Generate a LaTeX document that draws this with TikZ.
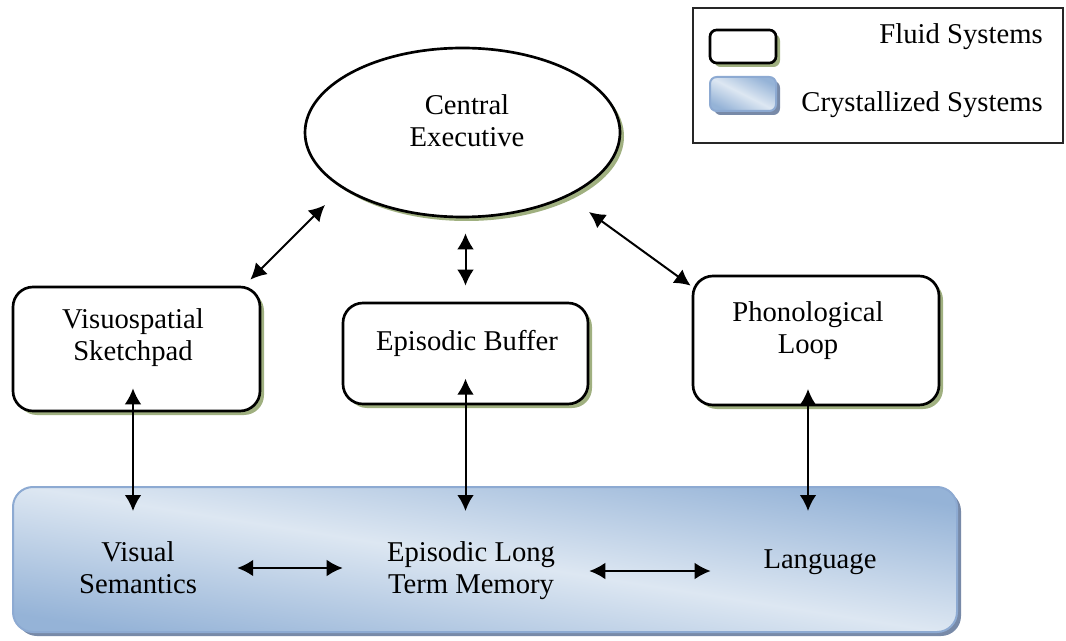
\documentclass[tikz,border=0pt]{standalone}
\usepackage{fontspec}
\setmainfont{Liberation Serif}
\usetikzlibrary{arrows.meta,shapes.geometric,shadows}

\definecolor{crysdark}{RGB}{149,179,215}
\definecolor{cryslight}{RGB}{221,231,242}
\definecolor{crysline}{RGB}{141,170,210}
\definecolor{fluidshade}{RGB}{160,176,128}
\definecolor{crysshade}{RGB}{120,138,168}

\tikzset{
  fluid/.style={draw, line width=2pt, rounded corners=15pt, fill=white, inner sep=0pt,
    drop shadow={shadow xshift=3pt, shadow yshift=-3pt, fill=fluidshade, opacity=1}},
  crystal/.style={draw=crysline, line width=1.5pt, rounded corners=15pt, inner sep=0pt,
    top color=crysdark, bottom color=crysdark, middle color=cryslight, shading angle=-9,
    drop shadow={shadow xshift=3pt, shadow yshift=-3pt, fill=crysshade, opacity=1}},
  txt/.style={align=center, inner sep=0pt},
  link/.style={<->, line width=1.5pt}
}

\begin{document}
\begin{tikzpicture}[x=0.75pt, y=-0.75pt, >={Latex[length=12pt,width=12.5pt]},
    font=\fontsize{21.5}{24}\selectfont]
  \fill[white] (0,0) rectangle (1066,641);
  \useasboundingbox (0,0) rectangle (1066,641);
  % legend
  \node[draw=black!85, line width=1.1pt, minimum width=277.5pt, minimum height=101.25pt] (legend) at (878,75.5) {};
  \node[fluid, rounded corners=5pt, minimum width=49.5pt, minimum height=24.75pt] (keyfluid) at (743,46.5) {};
  \node[crystal, rounded corners=5pt, shading angle=-27, minimum width=49.5pt, minimum height=25.5pt] (keycrys) at (743,94) {};
  \node[txt, anchor=east] (fluidtxt) at (1043,37) {Fluid Systems};
  \node[txt, anchor=east] (crystxt) at (1043,105) {Crystallized Systems};
  % fluid systems
  \node[fluid, ellipse, minimum width=236.25pt, minimum height=126.75pt] (ce) at (462.5,132.5) {};
  \node[fluid, minimum width=185.25pt, minimum height=93pt] (vsk) at (136.5,349) {};
  \node[fluid, minimum width=183.75pt, minimum height=75.75pt] (eb) at (465.5,353.5) {};
  \node[fluid, minimum width=184.5pt, minimum height=96.75pt] (pl) at (816,340.5) {};
  % crystallized systems
  \node[crystal, minimum width=708pt, minimum height=108.75pt] (crys) at (485,559.5) {};
  % texts
  \node[txt] (cetxt) at (467,121) {Central\\Executive};
  \node[txt] (vsktxt) at (133,338) {Visuospatial\\Sketchpad};
  \node[txt] (ebtxt) at (467,343) {Episodic Buffer};
  \node[txt] (pltxt) at (808,331) {Phonological\\Loop};
  \node[txt] (vsemtxt) at (138,568) {Visual\\Semantics};
  \node[txt] (eltmtxt) at (471,571) {Episodic Long\\Term Memory};
  \node[txt] (langtxt) at (820,562) {Language};
  % links
  \draw[link] ([shift={(-11,-6)}]vsk.north east) -- ([shift={(-137.5,72.5)}]ce.center);
  \draw[link, shorten <=12pt, shorten >=11.25pt] (eb.north) -- (eb.north |- ce.south);
  \draw[link] ([shift={(126.5,79.5)}]ce.center) -- ([shift={(-1,11)}]pl.north west);
  \draw[link, shorten <=-18pt, shorten >=-18.75pt] (vsktxt |- vsk.south) -- (vsktxt |- crys.north);
  \draw[link, shorten <=-20pt, shorten >=-18.75pt] (eb.south) -- (eb.south |- crys.north);
  \draw[link, shorten <=-13pt, shorten >=-18.75pt] (pltxt |- pl.south) -- (pltxt |- crys.north);
  \draw[link, shorten <=30pt, shorten >=33pt] (vsemtxt.east) -- (vsemtxt.east -| eltmtxt.west);
  \draw[link, shorten <=25.5pt, shorten >=39.4pt] (eltmtxt.east) -- (eltmtxt.east -| langtxt.west);
\end{tikzpicture}
\end{document}
